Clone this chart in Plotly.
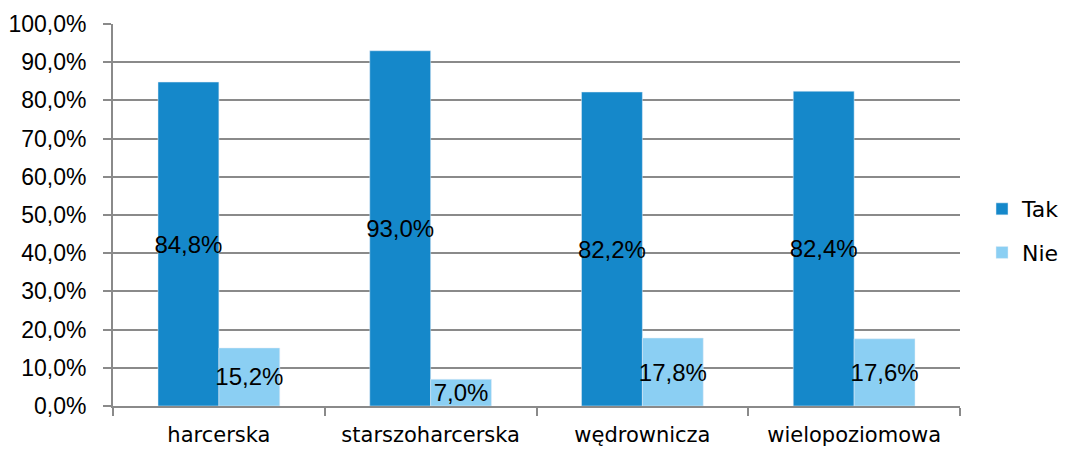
import plotly.graph_objects as go

categories = ["harcerska", "starszoharcerska", "wędrownicza", "wielopoziomowa"]
tak = [84.8, 93.0, 82.2, 82.4]
nie = [15.2, 7.0, 17.8, 17.6]
y_ticks = [0, 10, 20, 30, 40, 50, 60, 70, 80, 90, 100]
y_tick_labels = [f"{v:.1f}%".replace(".", ",") for v in y_ticks]

FONT = "Liberation Sans"
XFONT = "DejaVu Sans"
GRID = "#8a8a8a"

def fmt(vals):
    return [f"{v:.1f}%".replace(".", ",") for v in vals]

fig = go.Figure()
fig.add_trace(go.Bar(name="Tak", x=categories, y=tak, marker_color="#1588CA",
                     legendgroup="a",
                     text=fmt(tak), textposition="inside", insidetextanchor="middle",
                     constraintext="none", textangle=0,
                     textfont=dict(color="black", size=24, family=FONT)))
fig.add_trace(go.Bar(name="Nie", x=categories, y=nie, marker_color="#8BCFF3",
                     legendgroup="b",
                     text=fmt(nie), textposition="inside", insidetextanchor="middle",
                     constraintext="none", textangle=0,
                     textfont=dict(color="black", size=24, family=FONT)))

fig.update_layout(
    width=1067, height=450,
    margin=dict(l=113, r=107, t=24, b=44, autoexpand=False),
    paper_bgcolor="white", plot_bgcolor="white",
    barmode="group", bargap=0.425, bargroupgap=0,
    font=dict(family=FONT, size=22, color="black"),
    legend=dict(x=1.026, y=0.458, xanchor="left", yanchor="middle",
                font=dict(size=22, family=XFONT), tracegroupgap=12, itemwidth=30),
    showlegend=True,
)
fig.update_xaxes(showline=True, linecolor=GRID, linewidth=2, automargin=False,
                 ticks="outside", tickson="boundaries", ticklen=8, tickcolor=GRID,
                 tickwidth=2, tickfont=dict(size=21, family=XFONT), showgrid=False,
                 ticklabelstandoff=9)
fig.update_yaxes(range=[0, 100], tickvals=y_ticks, ticktext=y_tick_labels,
                 showline=True, linecolor=GRID, linewidth=2, automargin=False,
                 ticks="outside", ticklen=8, tickcolor=GRID, tickwidth=2,
                 showgrid=True, gridcolor=GRID, gridwidth=2,
                 zeroline=False, tickfont=dict(size=23, family=FONT),
                 ticklabelstandoff=12)

fig.write_html("out.html", config={"displayModeBar": False},
               post_script="document.body.style.margin='0';")
